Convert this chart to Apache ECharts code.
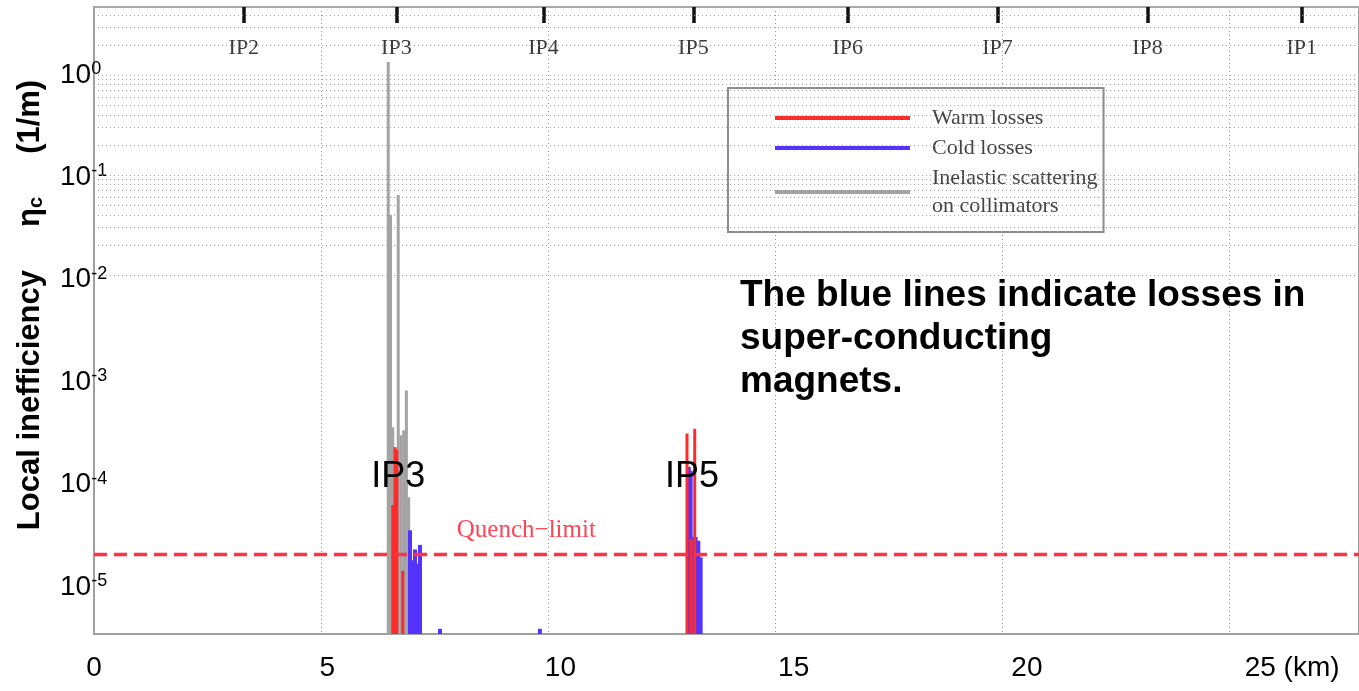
<!DOCTYPE html>
<html>
<head>
<meta charset="utf-8">
<script src="https://cdn.jsdelivr.net/npm/echarts@6/dist/echarts.min.js"></script>
<style>
  html, body { margin: 0; padding: 0; background: #fff; }
  #chart { width: 1359px; height: 691px; }
</style>
</head>
<body>
<div id="chart"></div>
<script>
// positions of the interaction points along the ring (km)
const ipNames = ['IP2', 'IP3', 'IP4', 'IP5', 'IP6', 'IP7', 'IP8', 'IP1'];
const ipKm = [3.3, 6.66, 9.9, 13.2, 16.6, 19.9, 23.2, 26.6];

// bottom axis tick labels (km)
const xTickLabels = [0, 5, 10, 15, 20, 25];

// loss spikes: [position km, local inefficiency 1/m]
const collimatorLosses = [
  [6.48, 1.35], [6.53, 0.04], [6.58, 3e-4], [6.70, 0.063],
  [6.76, 2.5e-4], [6.82, 2.8e-4], [6.88, 7e-4], [6.93, 6e-5]
];
const coldLosses = [
  [6.96, 2.8e-5], [7.02, 1.4e-5], [7.07, 1.8e-5], [7.12, 1.3e-5], [7.18, 2e-5],
  [7.62, 2.9e-6], [9.82, 2.9e-6],
  [13.10, 1.2e-4], [13.14, 1.1e-4], [13.19, 2.4e-5], [13.25, 2.4e-5],
  [13.31, 2.2e-5], [13.36, 1.5e-5]
];
const warmLosses = [
  [6.58, 5e-5], [6.63, 1.9e-4], [6.67, 1.8e-4], [6.80, 1.1e-5],
  [13.06, 2.6e-4], [13.15, 2.3e-5], [13.23, 2.9e-4]
];

const quenchLimit = 1.6e-5;
const quenchLabelKm = 7.99;

// text overlays: [label, km, value]
const ipMarks = [['IP3', 6.70, 9.5e-5], ['IP5', 13.17, 9.5e-5]];

// axis ranges
const xMax = 27.86;
const labelXMax = 27.12;
const yMin = 2.57e-6, yMax = 4.79;
const labelYMin = 3.47e-6, labelYMax = 4.61;

const colors = { warm: '#ff2b2b', cold: '#5533ff', coll: '#a3a3a3', quench: '#ff3344' };

const chart = echarts.init(document.getElementById('chart'));

function spikeRenderer(barWidth) {
  return function (params, api) {
    const top = api.coord([api.value(0), api.value(1)]);
    const base = api.coord([api.value(0), yMin]);
    return {
      type: 'rect',
      shape: { x: top[0] - barWidth / 2, y: top[1], width: barWidth, height: base[1] - top[1] },
      style: { fill: api.visual('color') }
    };
  };
}

// log grid lines 1..9 x 10^n
const gridLines = [];
for (let n = -6; n <= 0; n++) {
  for (let k = 1; k <= 9; k++) {
    const v = k * Math.pow(10, n);
    if (v > yMin && v < yMax) gridLines.push({ yAxis: v });
  }
}

const serif = '"Liberation Serif", "Times New Roman", serif';
const sans = '"Liberation Sans", Arial, Helvetica, sans-serif';
const gap = '     ';

const option = {
  animation: false,
  backgroundColor: '#fff',
  grid: {
    left: 94, top: 7, right: 0, bottom: 57,
    show: true, borderColor: '#a0a0a0', borderWidth: 2
  },
  legend: {
    data: ['Warm losses', 'Cold losses', 'Inelastic scattering\non collimators'],
    orient: 'vertical',
    left: 728, top: 88,
    padding: [16, 6, 12, 47],
    itemGap: 2,
    itemWidth: 135, itemHeight: 4,
    icon: 'rect',
    backgroundColor: '#fff',
    borderColor: '#8c8c8c', borderWidth: 2,
    textStyle: { fontFamily: serif, fontSize: 22, color: '#444', lineHeight: 28, padding: [0, 0, 0, 17] }
  },
  xAxis: [
    {
      type: 'value', position: 'bottom', min: 0, max: xMax, interval: 5,
      axisLine: { show: false }, axisTick: { show: false }, axisLabel: { show: false },
      splitLine: { show: true, lineStyle: { color: '#9a9a9a', type: [1, 3], width: 1 } }
    },
    {
      type: 'value', position: 'top', min: 0, max: xMax,
      axisLine: { show: true, lineStyle: { color: '#a8a8a8', width: 2 } },
      axisTick: { show: true, inside: true, length: 16, customValues: ipKm, lineStyle: { color: '#111', width: 3.5 } },
      axisLabel: {
        inside: true, margin: 30, customValues: ipKm,
        fontFamily: serif, fontSize: 22, color: '#3a3a3a',
        formatter: function (v) {
          let best = 0;
          ipKm.forEach((p, i) => { if (Math.abs(p - v) < Math.abs(ipKm[best] - v)) best = i; });
          return ipNames[best];
        }
      },
      splitLine: { show: false }
    },
    {
      type: 'value', position: 'bottom', min: 0, max: labelXMax,
      axisLine: { show: false }, axisTick: { show: false }, splitLine: { show: false },
      axisLabel: {
        customValues: xTickLabels, margin: 20,
        fontFamily: sans, fontSize: 28, color: '#000',
        formatter: v => v === 25 ? '{p|}{n|25}{n| (km)}' : String(v),
        rich: {
          p: { width: 64 },
          n: { fontFamily: sans, fontSize: 28, color: '#000' }
        }
      }
    }
  ],
  yAxis: [
    {
      type: 'log', min: yMin, max: yMax,
      axisLine: { show: false }, axisTick: { show: false }, axisLabel: { show: false },
      splitLine: { show: false }
    },
    {
      type: 'log', min: labelYMin, max: labelYMax, position: 'left',
      axisLine: { show: false }, axisTick: { show: false }, splitLine: { show: false },
      axisLabel: {
        align: 'left', margin: 34,
        formatter: function (v) {
          const l = Math.log10(v);
          const e = Math.round(l);
          if (Math.abs(l - e) > 1e-6) return '';
          return '{b|10}{s|' + e + '}';
        },
        rich: {
          b: { fontFamily: sans, fontSize: 28, color: '#000', lineHeight: 30 },
          s: { fontFamily: sans, fontSize: 18, color: '#000', verticalAlign: 'top', lineHeight: 18 }
        }
      },
      name: '{a|Local inefficiency' + gap + 'η}{s|c}{a|' + gap + '(1/m)}',
      nameLocation: 'middle', nameRotate: 90, nameGap: 48,
      nameTextStyle: {
        padding: [0, 0, 0, 31],
        rich: {
          a: { fontFamily: sans, fontSize: 31, fontWeight: 'bold', color: '#000' },
          s: { fontFamily: sans, fontSize: 20, fontWeight: 'bold', color: '#000', verticalAlign: 'bottom' }
        }
      }
    }
  ],
  series: [
    {
      name: 'grid', type: 'line', data: [], z: 1, silent: true,
      markLine: {
        silent: true, symbol: ['none', 'none'], label: { show: false },
        lineStyle: { color: '#a8a8a8', type: [1, 3], width: 1 },
        data: gridLines
      }
    },
    {
      name: 'Inelastic scattering\non collimators', type: 'custom', z: 2,
      itemStyle: { color: colors.coll },
      renderItem: spikeRenderer(3),
      encode: { x: 0, y: 1 },
      data: collimatorLosses
    },
    {
      name: 'Cold losses', type: 'custom', z: 3,
      itemStyle: { color: colors.cold },
      renderItem: spikeRenderer(4),
      encode: { x: 0, y: 1 },
      data: coldLosses
    },
    {
      name: 'Warm losses', type: 'custom', z: 4,
      itemStyle: { color: colors.warm },
      renderItem: spikeRenderer(3),
      encode: { x: 0, y: 1 },
      data: warmLosses
    },
    {
      name: 'quench', type: 'line', z: 5, silent: true,
      symbol: 'none',
      lineStyle: { color: colors.quench, type: [13, 7], width: 3.5 },
      data: [[0, quenchLimit], [xMax, quenchLimit]]
    }
  ]
};

chart.setOption(option);

// text overlays placed through the chart's scales
const overlays = ipMarks.map(m => {
  const p = chart.convertToPixel({ xAxisIndex: 0, yAxisIndex: 0 }, [m[1], m[2]]);
  return {
    type: 'text', x: p[0], y: p[1], z: 10,
    style: { text: m[0], font: '36px ' + sans, fill: '#000', align: 'center', verticalAlign: 'middle' }
  };
});
const q = chart.convertToPixel({ xAxisIndex: 0, yAxisIndex: 0 }, [quenchLabelKm, quenchLimit]);
overlays.push({
  type: 'text', x: q[0], y: q[1] - 12, z: 10,
  style: { text: 'Quench−limit', font: '25px ' + serif, fill: '#ff4455', align: 'left', verticalAlign: 'bottom' }
});
overlays.push({
  type: 'text', left: 740, top: 274, z: 10,
  style: {
    text: 'The blue lines indicate losses in\nsuper-conducting\nmagnets.',
    font: 'bold 37px ' + sans, fill: '#000', lineHeight: 43
  }
});
chart.setOption({ graphic: overlays });
</script>
</body>
</html>
